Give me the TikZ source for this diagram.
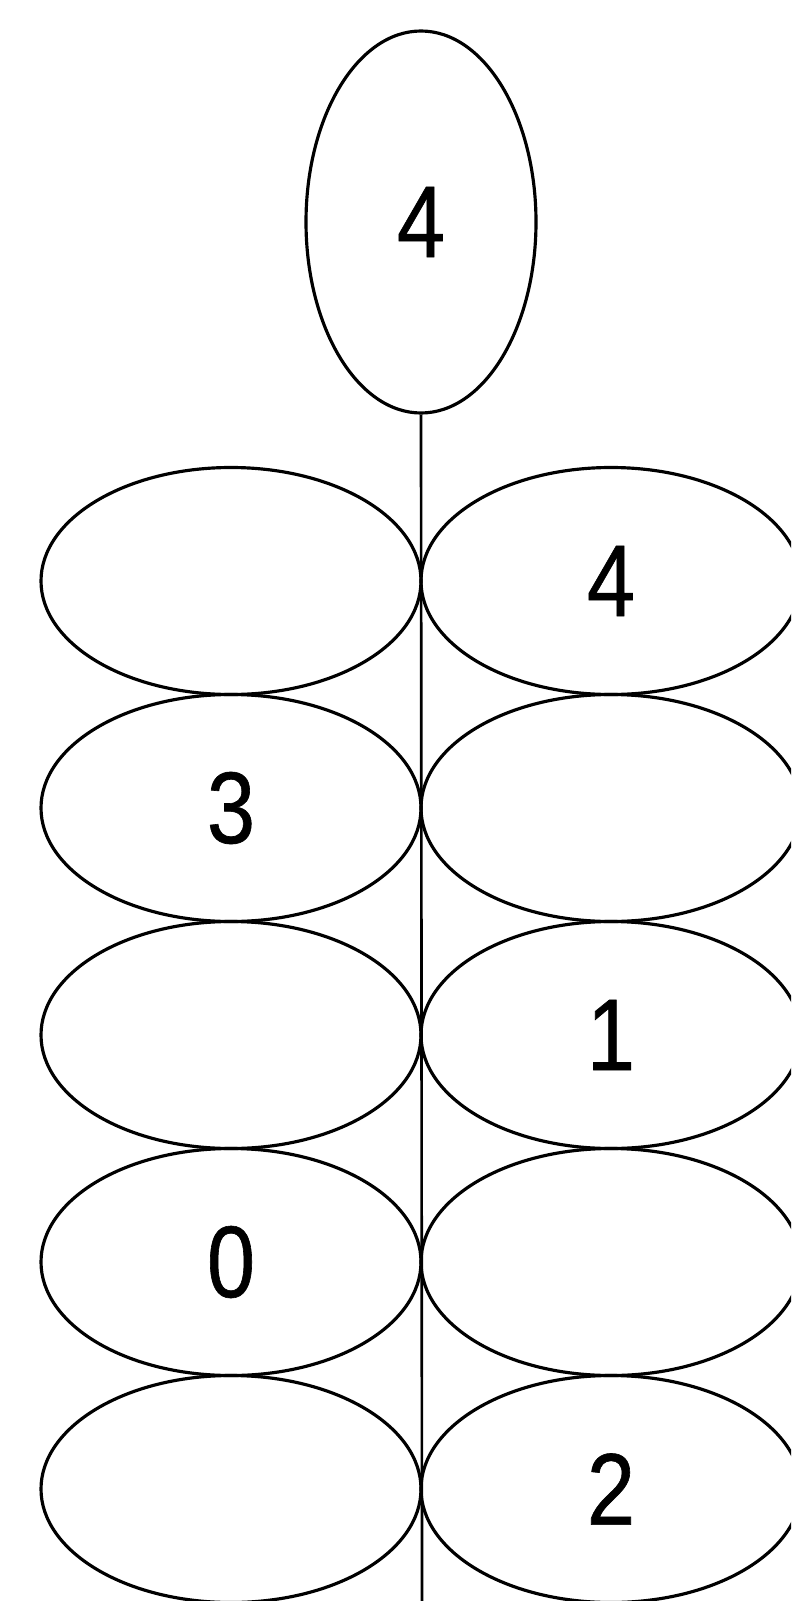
\documentclass[tikz,border=0pt]{standalone}
\usepackage{fontspec}
\setmainfont{Liberation Sans}
\newfontfamily\leaffont[FakeStretch=0.85, FakeBold=0.6]{Liberation Sans}
\usetikzlibrary{shapes.geometric}

\begin{document}
\begin{tikzpicture}[
  leaf/.style    = {draw, ellipse, line width=1.8pt, inner sep=0pt,
                    minimum width=7.6cm, minimum height=4.54cm,
                    font=\leaffont\fontsize{58}{62}\selectfont},
  bud/.style     = {leaf, minimum width=4.6cm, minimum height=7.64cm},
  stem/.style    = {line width=1.5pt},
]

% ---- page frame -------------------------------------------------------------
\clip (0,0) rectangle (15.82,-32.02);
\useasboundingbox (0,0) rectangle (15.82,-32.02);

% ---- top bud ----------------------------------------------------------------
\node[bud] (bud) at (8.42,-4.44) {4};

% ---- left leaves ------------------------------------------------------------
\node[leaf] (l1) at (4.62,-11.62) {};
\node[leaf] (l2) at (4.62,-16.16) {3};
\node[leaf] (l3) at (4.62,-20.70) {};
\node[leaf] (l4) at (4.62,-25.24) {0};
\node[leaf] (l5) at (4.62,-29.78) {};

% ---- right leaves -----------------------------------------------------------
\node[leaf] (r1) at (12.22,-11.62) {4};
\node[leaf] (r2) at (12.22,-16.16) {};
\node[leaf] (r3) at (12.22,-20.70) {1};
\node[leaf] (r4) at (12.22,-25.24) {};
\node[leaf] (r5) at (12.22,-29.78) {2};

% ---- stem -------------------------------------------------------------------
\coordinate (root) at (8.44,-32.02);
\draw[stem] (bud.south) -- (root);

\end{tikzpicture}
\end{document}
